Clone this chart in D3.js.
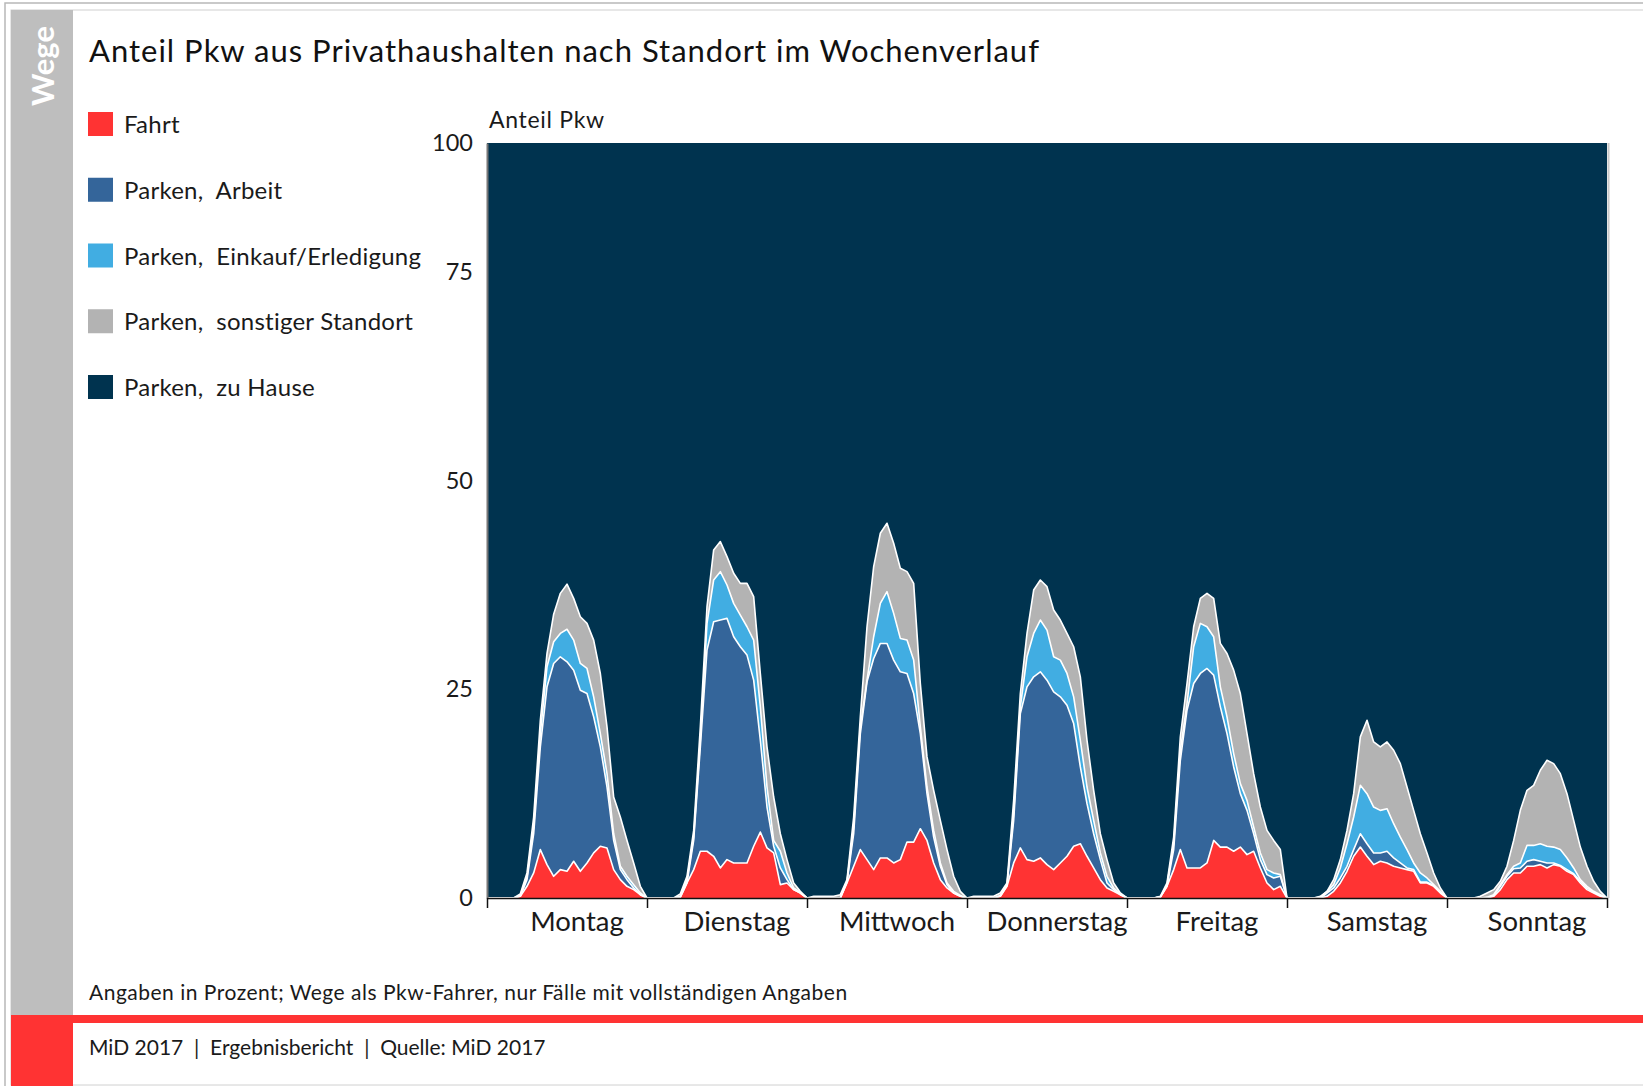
<!DOCTYPE html>
<html>
<head>
<meta charset="utf-8">
<script src="https://cdn.jsdelivr.net/npm/d3@7"></script>
<style>
    body { margin: 0; background: #fff; }
    svg text { font-family: Lato, "Open Sans", sans-serif; fill: #1a1a1a; }
</style>
</head>
<body>
<div id="chart"></div>
<script>
// hourly shares (in %) for Montag 0h ... Sonntag 23h, plus the closing point at 24h Sonntag
var days = ["Montag", "Dienstag", "Mittwoch", "Donnerstag", "Freitag", "Samstag", "Sonntag"];
var yTicks = [0, 25, 50, 75, 100];

var fahrt = [
    0,0,0,0,0,0.2,1.4,3,5.8,4,2.6,3.4,3.2,4.4,3.2,4.2,5.4,6.2,6,3.4,2.2,1.4,1,0.4,
    0,0,0,0,0,0.1,1.8,3.4,5.6,5.6,5,3.6,4.6,4.2,4.2,4.2,6.2,7.9,6,5.4,1.6,1.8,1,0.6,
    0,0,0,0,0,0,1.8,3.8,5.8,4.6,3.4,4.8,4.8,4.2,4.6,6.7,6.7,8.3,6.9,4.2,2.2,1.2,0.6,0.2,
    0,0,0,0,0,0.2,1.4,4.2,6,4.6,4.4,4.8,4,3.4,4.2,5,6.2,6.5,5,3.6,2.2,1.2,0.8,0.4,
    0,0,0,0,0,0.1,1.4,3.4,5.8,3.6,3.6,3.6,4.2,6.9,6.1,6.1,5.6,6.1,5.2,5.6,3.6,1.8,1,1.4,
    0,0,0,0,0,0,0.2,0.8,1.8,3.2,5,6.1,5,4,4.4,4.2,3.8,3.6,3.4,3.2,1.8,1.8,1.4,0.6,
    0,0,0,0,0,0,0,0.2,1,2.2,3,3,3.8,3.8,4,3.6,4,3.8,3.2,2.8,1.8,1,0.6,0.2,
    0
];
var arbeit = [
    0,0,0,0,0,0,0.8,4.7,12.3,21.3,25.5,25.5,25.1,22.9,21.7,20.3,16.3,11.9,7.3,3.5,1.2,0.8,0.2,0,
    0,0,0,0,0,0,0,3.5,12.5,24.1,28.1,29.7,28.9,27.1,25.9,24.9,19.9,11,4.9,0.8,2,0.4,0,0,
    0,0,0,0,0,0,0.1,3.9,13.9,21.3,25.3,25.7,25.7,24.3,22.5,20.2,17.8,11.4,5.6,3.1,1.6,0.4,0,0,
    0,0,0,0,0,0,0.1,5.1,16.1,20.7,22.1,22.3,22.1,21.3,19.9,18.1,14.7,9.2,6.3,4.1,2.4,0.6,0.2,0,
    0,0,0,0,0,0,0,2.4,10.7,18.9,22.1,23.3,23.3,19.8,16.8,13.6,10.1,6.4,5.3,2.1,1,1,1.4,1.2,
    0,0,0,0,0,0,0.4,0.4,0.6,0.6,0.8,1.6,1.5,1.4,1,1.4,1,0.6,0.2,0.2,0.1,0.1,0.1,0.1,
    0,0,0,0,0,0,0,0.1,0.4,0.4,0.5,0.6,0.6,0.8,0.4,0.6,0.2,0.1,0.2,0.1,0.2,0.2,0.1,0.1,
    0
];
var einkauf = [
    0,0,0,0,0,0.1,0.3,0.8,1.6,2.4,2.6,2.8,3.9,3.6,3.2,3,2.4,1.6,1.6,0.8,0.4,0.4,0.4,0.2,
    0,0,0,0,0,0.1,0.4,0.4,0.8,3.2,5,5.8,4,4,3.8,3.4,4.8,4,2.4,0.7,2,0.8,0.2,0.1,
    0,0,0,0,0,0,0.1,0.8,0.8,0.2,2.6,4.8,6.2,5.6,4,4,4,0.8,0.8,0.8,0.4,0.2,0.2,0.1,
    0,0,0,0,0,0.1,0.1,0.8,0.8,3.6,5.2,6.2,6,4.2,4.4,3.8,3.2,3.2,2,1.6,0.8,0.8,0.2,0.1,
    0,0,0,0,0,0,0.2,0.7,1.2,0.8,4.4,6,5,4.6,2.4,2,1.6,1.2,1.2,0.8,0.8,0.6,0.6,0.2,
    0,0,0,0,0,0.1,0.2,0.4,1.2,2.7,3.9,5.8,6,5.5,5.1,5.1,4.1,3.1,2.2,0.8,1.1,0.5,0.1,0.1,
    0,0,0,0,0,0,0.1,0.1,0.2,0.2,0.3,0.6,1.9,1.7,2.1,2,1.9,1.9,1.4,0.7,0.2,0.2,0.1,0.1,
    0
];
var sonstig = [
    0,0,0,0,0,0.2,0.5,1.2,1.6,1.6,3.3,4.8,5.4,5,5.6,5.4,6.8,7.2,5.6,4.4,5.9,4.3,2.6,0.8,
    0,0,0,0,0,0.3,0.4,0.8,1.6,2,3.6,3.6,3.4,3.6,3.8,5.2,5.2,4,4.8,5.2,2.1,1.6,0.6,0.1,
    0,0.2,0.2,0.2,0.2,0.4,0.2,1.2,1.2,6.4,8.4,8.4,8.2,8.4,8.4,8.2,9.2,5.2,3.6,4.8,5.1,4,1.8,0.5,
    0,0.2,0.2,0.2,0.2,0.3,0.2,1.6,1.6,2.8,5.2,4.8,5.2,5.6,4.8,4.8,6,7.6,5.6,3.6,2.3,2,0.6,0.1,
    0,0,0,0,0,0.1,0.2,0.8,1.6,2.4,2.4,3,4,4.6,5.2,7.6,10,10.8,8,6.4,5.5,4.7,3.9,3,
    0,0,0,0,0,0.1,0,0.6,1,1.6,2.8,5.8,8.8,7.8,7.6,8,8.8,8.8,7.5,6.3,4.7,3,1.4,0.4,
    0,0,0,0,0,0.2,0.5,0.6,0.4,1,3.1,6.3,6.6,7.2,8.8,10.3,10,9.1,7.7,5.7,3.9,2.4,1.2,0.4,
    0
];
var zuHause = [
    100,100,100,100,100,99.5,97,90.3,78.7,70.7,66,63.5,62.4,64.1,66.3,67.1,69.1,73.1,79.5,87.9,90.3,93.1,95.8,98.6,
    100,100,100,100,100,99.5,97.4,91.9,79.5,65.1,58.3,57.3,59.1,61.1,62.3,62.3,63.9,73.1,81.9,87.9,92.3,95.4,98.2,99.2,
    100,99.8,99.8,99.8,99.8,99.6,97.8,90.3,78.3,67.5,60.3,56.3,55.1,57.5,60.5,60.9,62.3,74.3,83.1,87.1,90.7,94.2,97.4,99.2,
    100,99.8,99.8,99.8,99.8,99.4,98.2,88.3,75.5,68.3,63.1,61.9,62.7,65.5,66.7,68.3,69.9,73.5,81.1,87.1,92.3,95.4,98.2,99.4,
    100,100,100,100,100,99.8,98.2,92.7,80.7,74.3,67.5,64.1,63.5,64.1,69.5,70.7,72.7,75.5,80.3,85.1,89.1,91.9,93.1,94.2,
    100,100,100,100,100,99.8,99.2,97.8,95.4,91.9,87.5,80.7,78.7,81.3,81.9,81.3,82.3,83.9,86.7,89.5,92.3,94.6,97,98.8,
    100,100,100,100,100,99.8,99.4,99,98,96.2,93.1,89.5,87.1,86.5,84.7,83.5,83.9,85.1,87.5,90.7,93.9,96.2,98,99.2,
    100
];

var series = [
    {key: "fahrt",   label: "Fahrt",                          color: "#ff3333", values: fahrt},
    {key: "arbeit",  label: "Parken,  Arbeit",                color: "#34659a", values: arbeit},
    {key: "einkauf", label: "Parken,  Einkauf/Erledigung",    color: "#41ade2", values: einkauf},
    {key: "sonstig", label: "Parken,  sonstiger Standort",    color: "#b3b3b3", values: sonstig},
    {key: "zuHause", label: "Parken,  zu Hause",              color: "#00334f", values: zuHause}
];

var svg_width = 1643, svg_height = 1086;
var plot = {left: 487, right: 1607, top: 143, bottom: 898};

var svg = d3.select("#chart").append("svg")
    .attr("width", svg_width)
    .attr("height", svg_height);

// page frame
svg.append("rect").attr("x", 5).attr("y", 3).attr("width", svg_width).attr("height", svg_height)
    .attr("fill", "none").attr("stroke", "#b8b8b8").attr("stroke-width", 1.5);
svg.append("rect").attr("x", 11).attr("y", 10).attr("width", svg_width).attr("height", svg_height - 11)
    .attr("fill", "#fff").attr("stroke", "#d0d0d0").attr("stroke-width", 1);
svg.append("rect").attr("x", 11).attr("y", 10).attr("width", 62).attr("height", 1005).attr("fill", "#bebebe");
svg.append("rect").attr("x", 11).attr("y", 1015).attr("width", svg_width - 11).attr("height", 8).attr("fill", "#ff3333");
svg.append("rect").attr("x", 11).attr("y", 1015).attr("width", 62).attr("height", 71).attr("fill", "#ff3333");

svg.append("text")
    .attr("transform", "translate(54,66) rotate(-90)")
    .attr("text-anchor", "middle")
    .style("font-size", "31px").style("font-weight", "bold").style("fill", "#fff")
    .text("Wege");

svg.append("text").attr("x", 89).attr("y", 62)
    .style("font-size", "31px").style("letter-spacing", "1px").style("fill", "#111")
    .text("Anteil Pkw aus Privathaushalten nach Standort im Wochenverlauf");

// legend
var legend = svg.append("g").attr("class", "legend");
var items = legend.selectAll("g").data(series).enter().append("g")
    .attr("transform", function(d, i) { return "translate(88," + (112 + i * 65.75) + ")"; });
items.append("rect").attr("width", 25).attr("height", 24).attr("fill", function(d) { return d.color; });
items.append("text").attr("x", 36).attr("y", 21)
    .style("font-size", "24px").style("letter-spacing", "0.25px").style("white-space", "pre")
    .text(function(d) { return d.label; });

// scales
var x = d3.scaleLinear().domain([0, days.length * 24]).range([plot.left, plot.right]);
var y = d3.scaleLinear().domain([0, 75, 100]).range([plot.bottom, 272, plot.top]);
var xDay = d3.scaleBand().domain(days).range([plot.left, plot.right]);

var rows = fahrt.map(function(v, i) {
    var r = {hour: i};
    series.forEach(function(s) { r[s.key] = s.values[i]; });
    return r;
});
var stacked = d3.stack().keys(series.map(function(s) { return s.key; }))(rows);

var area = d3.area()
    .x(function(d) { return x(d.data.hour); })
    .y0(function(d) { return y(d[0]); })
    .y1(function(d) { return y(Math.min(d[1], 100)); });
var topLine = d3.line()
    .x(function(d) { return x(d.data.hour); })
    .y(function(d) { return y(d[1]); });

var chart = svg.append("g");
chart.selectAll("path.area").data(stacked).enter().append("path")
    .attr("class", "area")
    .attr("fill", function(d, i) { return series[i].color; })
    .attr("d", area);
chart.selectAll("path.sep").data(stacked.slice(0, 4)).enter().append("path")
    .attr("class", "sep")
    .attr("fill", "none")
    .attr("stroke", "#fff")
    .attr("stroke-width", 1.6)
    .attr("stroke-linejoin", "round")
    .attr("d", topLine);

// right border of plot
svg.append("line").attr("x1", plot.right + 1.5).attr("x2", plot.right + 1.5)
    .attr("y1", plot.top).attr("y2", plot.bottom)
    .attr("stroke", "#c8c8c8").attr("stroke-width", 2);

// axes
var yAxis = svg.append("g").attr("class", "axis axis--y")
    .attr("transform", "translate(" + plot.left + ",0)")
    .call(d3.axisLeft(y).tickValues(yTicks).tickSize(0).tickPadding(14));
yAxis.select(".domain").attr("stroke", "#777").attr("stroke-width", 2);
yAxis.selectAll("text").style("font-size", "23.5px").style("font-family", "Lato, sans-serif").attr("fill", "#1a1a1a");

var xAxis = svg.append("g").attr("class", "axis axis--x")
    .attr("transform", "translate(0," + plot.bottom + ")")
    .call(d3.axisBottom(x).tickValues(d3.range(0, days.length * 24 + 1, 24)).tickSize(10).tickSizeOuter(0).tickFormat(""));
xAxis.select(".domain").attr("stroke", "#111").attr("stroke-width", 1.5);
xAxis.selectAll(".tick line").attr("stroke", "#111").attr("stroke-width", 1.5);

svg.selectAll("text.day").data(days).enter().append("text")
    .attr("class", "day")
    .attr("x", function(d) { return xDay(d) + xDay.bandwidth() / 2 + 10; })
    .attr("y", 931)
    .attr("text-anchor", "middle")
    .style("font-size", "27.5px")
    .text(function(d) { return d; });

svg.append("text").attr("x", 489).attr("y", 128)
    .style("font-size", "23px").style("letter-spacing", "0.7px")
    .text("Anteil Pkw");

svg.append("text").attr("x", 89).attr("y", 1000)
    .style("font-size", "21px").style("letter-spacing", "0.5px")
    .text("Angaben in Prozent; Wege als Pkw-Fahrer, nur Fälle mit vollständigen Angaben");

svg.append("text").attr("x", 89).attr("y", 1055)
    .style("font-size", "21px").style("white-space", "pre")
    .text("MiD 2017  |  Ergebnisbericht  |  Quelle: MiD 2017");
</script>
</body>
</html>
